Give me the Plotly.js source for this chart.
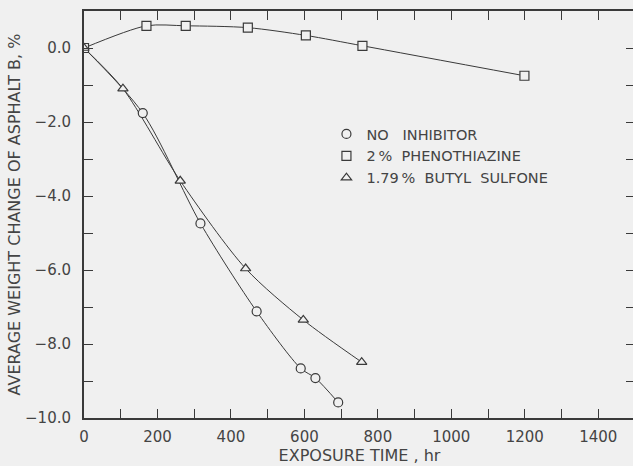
<!DOCTYPE html>
<html>
<head>
<meta charset="utf-8">
<script src="https://cdn.plot.ly/plotly-3.0.1.min.js"></script>
<style>
html,body{margin:0;padding:0;overflow:hidden;background:#f0f0f0;}
#chart{width:636px;height:466px;}
</style>
</head>
<body>
<div id="chart"></div>
<script>
// Exposure time (hr) and average weight change (%)
var noInhibitorX = [0, 160, 317, 470, 590, 630, 692];
var noInhibitorY = [0, -1.76, -4.74, -7.12, -8.66, -8.92, -9.58];

var phenothiazineX = [0, 170, 277, 446, 604, 758, 1199];
var phenothiazineY = [0, 0.60, 0.60, 0.55, 0.34, 0.06, -0.75];

var butylSulfoneX = [0, 106, 262, 440, 597, 756];
var butylSulfoneY = [0, -1.10, -3.59, -5.96, -7.35, -8.49];

var seriesNames = ["NO\u00a0\u00a0 INHIBITOR", "2\u2009%\u00a0 PHENOTHIAZINE", "1.79\u2009%\u00a0 BUTYL\u00a0 SULFONE"];

var xTickVals = [0,100,200,300,400,500,600,700,800,900,1000,1100,1200,1300,1400];
var xTickText = ["0","","200","","400","","600","","800","","1000","","1200","","1400"];
var yTickVals = [0,-1,-2,-3,-4,-5,-6,-7,-8,-9,-10];
var yTickText = ["0.0","","\u22122.0","","\u22124.0","","\u22126.0","","\u22128.0","","\u221210.0"];

var ink = "#3a3a3a";
var bg = "#f0f0f0";
var fontFam = "DejaVu Sans, sans-serif";

var data = [];
var sets = [
  {x: noInhibitorX, y: noInhibitorY, sym: "circle-open", name: seriesNames[0]},
  {x: phenothiazineX, y: phenothiazineY, sym: "square-open", name: seriesNames[1]},
  {x: butylSulfoneX, y: butylSulfoneY, sym: "triangle-up-open", name: seriesNames[2]}
];
sets.forEach(function(s){
  data.push({x: s.x, y: s.y, mode: "lines", line: {color: ink, width: 1, shape: "spline", smoothing: 0.8}, showlegend: false, hoverinfo: "skip"});
});
sets.forEach(function(s){
  var solid = s.sym.replace("-open","");
  data.push({x: s.x, y: s.y, mode: "markers", name: s.name,
    marker: {symbol: solid, size: 9, color: bg, line: {color: ink, width: 1.2}}});
});

var axisCommon = {
  showgrid: false, zeroline: false, showline: true, linecolor: ink, linewidth: 2,
  ticks: "inside", ticklen: 9, tickcolor: ink, tickwidth: 1, mirror: "ticks",
  tickfont: {family: fontFam, size: 15, color: "#444"}
};

var layout = {
  width: 636, height: 466,
  margin: {l: 84, r: 1, t: 11, b: 48},
  paper_bgcolor: bg, plot_bgcolor: bg,
  font: {family: fontFam, color: "#444"},
  xaxis: Object.assign({}, axisCommon, {
    range: [0, 1500], tickmode: "array", tickvals: xTickVals, ticktext: xTickText,
    ticklabelstandoff: 4,
    title: {text: "EXPOSURE TIME , hr", font: {family: fontFam, size: 16, color: "#444"}, standoff: 2}
  }),
  yaxis: Object.assign({}, axisCommon, {
    range: [-10, 1], tickmode: "array", tickvals: yTickVals, ticktext: yTickText,
    ticklabelstandoff: 8,
    title: {text: "AVERAGE WEIGHT CHANGE OF ASPHALT B, %", font: {family: fontFam, size: 16, color: "#444"}, standoff: 0}
  }),
  legend: {x: 0.44, y: 0.737, xanchor: "left", yanchor: "top", bgcolor: "rgba(0,0,0,0)",
    font: {family: fontFam, size: 14.5, color: "#444"}, itemclick: false},
  showlegend: true
};

Plotly.newPlot("chart", data, layout, {staticPlot: true, displayModeBar: false});
</script>
</body>
</html>
